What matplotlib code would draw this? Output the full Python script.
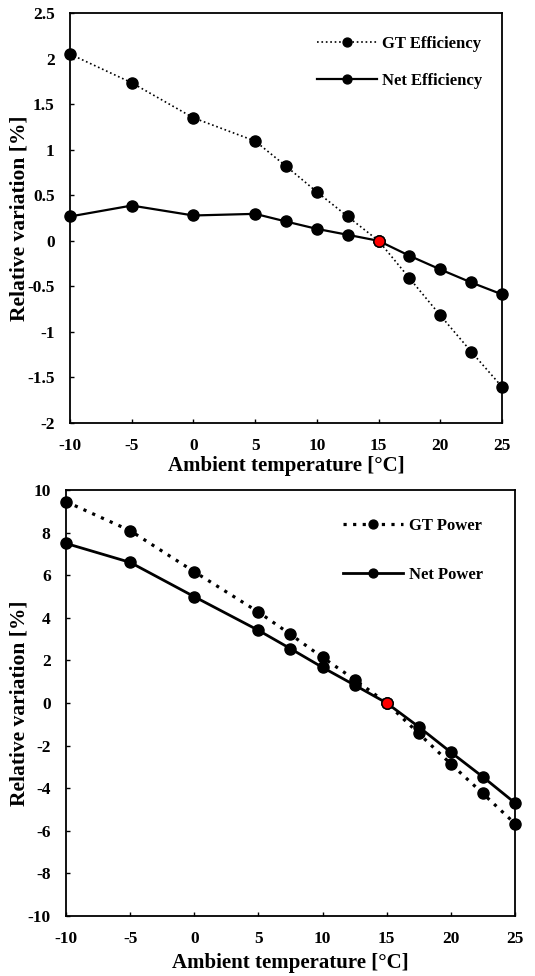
import matplotlib
matplotlib.use('Agg')
import matplotlib.pyplot as plt

plt.rcParams['font.family'] = 'Liberation Serif'
plt.rcParams['font.weight'] = 'bold'
plt.rcParams['axes.unicode_minus'] = False

# Data
temps = [-10, -5, 0, 5, 7.5, 10, 12.5, 15, 17.5, 20, 22.5, 25]
gt_eff = [2.05, 1.735, 1.35, 1.095, 0.82, 0.537, 0.267, 0.0, -0.41, -0.818, -1.216, -1.603]
net_eff = [0.267, 0.387, 0.278, 0.296, 0.212, 0.131, 0.066, 0.0, -0.164, -0.314, -0.457, -0.588]
gt_pow = [9.45, 8.09, 6.16, 4.27, 3.22, 2.14, 1.10, 0.0, -1.43, -2.86, -4.25, -5.66]
net_pow = [7.49, 6.6, 4.99, 3.41, 2.55, 1.67, 0.84, 0.0, -1.12, -2.31, -3.47, -4.69]
ref_temp = 15
ref_val = 0.0

fig = plt.figure(figsize=(5.35, 9.76), dpi=100)
ax1 = fig.add_axes([0.1308, 0.5666, 0.8075, 0.420])
ax2 = fig.add_axes([0.1234, 0.0615, 0.839, 0.4365])

ms = 8

# Top chart - efficiency
ax1.plot(temps, gt_eff, color='black', linestyle=':', linewidth=1.2, marker='o',
         markersize=ms, clip_on=False, label='GT Efficiency', zorder=3)
ax1.plot(temps, net_eff, color='black', linestyle='-', linewidth=1.6, marker='o',
         markersize=ms, clip_on=False, label='Net Efficiency', zorder=3)
ax1.plot([ref_temp], [ref_val], marker='o', color='red', markeredgecolor='black',
         markersize=ms, linestyle='none', zorder=5, clip_on=False)
ax1.set_xlim(-10, 25)
ax1.set_ylim(-2, 2.5)
ax1.set_xticks([-10, -5, 0, 5, 10, 15, 20, 25])
ax1.set_yticks([-2, -1.5, -1, -0.5, 0, 0.5, 1, 1.5, 2, 2.5])
ax1.set_yticklabels(['-2', '-1.5', '-1', '-0.5', '0', '0.5', '1', '1.5', '2', '2.5'])
ax1.set_xlabel('Ambient temperature [°C]', fontsize=15, fontweight='bold', labelpad=1)
ax1.set_ylabel('Relative variation [%]', fontsize=15.5, fontweight='bold', labelpad=-2)
ax1.legend(loc='upper right', frameon=False, fontsize=12, handlelength=3.6,
           labelspacing=1.25, bbox_to_anchor=(0.99, 0.98), handletextpad=0.35,
           markerscale=0.8)

# Bottom chart - power
ax2.plot(temps, gt_pow, color='black', linestyle=(0, (1, 2)), linewidth=2.3, marker='o',
         markersize=ms, clip_on=False, label='GT Power', zorder=3)
ax2.plot(temps, net_pow, color='black', linestyle='-', linewidth=2.0, marker='o',
         markersize=ms, clip_on=False, label='Net Power', zorder=3)
ax2.plot([ref_temp], [ref_val], marker='o', color='red', markeredgecolor='black',
         markersize=ms, linestyle='none', zorder=5, clip_on=False)
ax2.set_xlim(-10, 25)
ax2.set_ylim(-10, 10)
ax2.set_xticks([-10, -5, 0, 5, 10, 15, 20, 25])
ax2.set_yticks(range(-10, 11, 2))
ax2.set_xlabel('Ambient temperature [°C]', fontsize=15, fontweight='bold', labelpad=4)
ax2.set_ylabel('Relative variation [%]', fontsize=15.5, fontweight='bold', labelpad=-1)
ax2.legend(loc='upper right', frameon=False, fontsize=12, handlelength=3.6,
           labelspacing=2.0, bbox_to_anchor=(0.963, 0.97), handletextpad=0.35,
           markerscale=0.8)

for ax in (ax1, ax2):
    ax.tick_params(axis='both', direction='in', length=3, width=1, labelsize=12.5, pad=11)
    for lab in ax.get_xticklabels() + ax.get_yticklabels():
        lab.set_fontweight('bold')
    for sp in ax.spines.values():
        sp.set_linewidth(1.3)

fig.savefig('out.png', dpi=100)
